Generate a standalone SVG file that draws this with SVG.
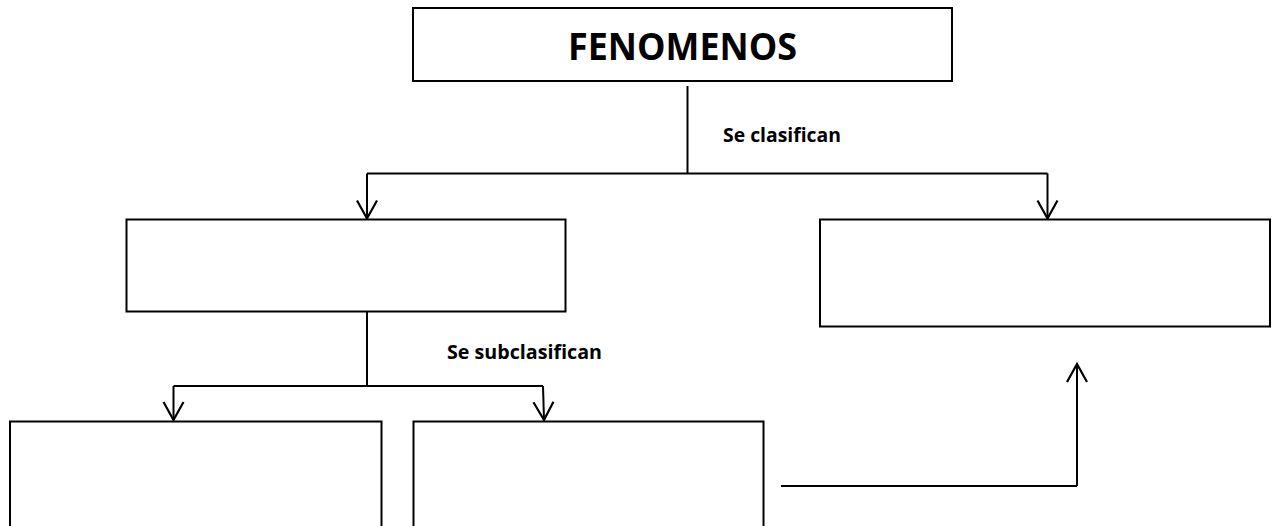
<svg xmlns="http://www.w3.org/2000/svg" width="1273" height="526" viewBox="0 0 1273 526">
  <style>
    .box { fill: #ffffff; stroke: #000000; stroke-width: 2; }
    .line { fill: none; stroke: #000000; stroke-width: 2; }
    .arrow { fill: none; stroke: #000000; stroke-width: 2; marker-end: url(#head); }
    .title { font-family: "Open Sans", "Liberation Sans", Arial, sans-serif; font-weight: bold; font-size: 37px; fill: #000000; }
    .label { font-family: "Open Sans", "Liberation Sans", Arial, sans-serif; font-weight: bold; font-size: 20px; fill: #000000; }
  </style>
  <defs>
    <marker id="head" markerUnits="userSpaceOnUse" viewBox="-1 -1 22 22" markerWidth="22" markerHeight="22" refX="18" refY="10" orient="auto" overflow="visible">
      <path d="M0,0 L18,10 L0,20" fill="none" stroke="#000000" stroke-width="2.2"/>
    </marker>
  </defs>
  <rect width="1273" height="526" fill="#ffffff"/>

  <g id="connectors">
    <polyline class="line" points="687.5,86 687.5,173.5"/>
    <polyline class="line" points="367,173.5 1047.5,173.5"/>
    <polyline class="arrow" points="367,173.5 367,218.5"/>
    <polyline class="arrow" points="1047.5,173.5 1047.5,218.5"/>
    <polyline class="line" points="367,312 367,386 173.5,386"/>
    <polyline class="line" points="367,386 543,386"/>
    <polyline class="arrow" points="173.5,386 173.5,420"/>
    <polyline class="arrow" points="543,386 544,420"/>
    <polyline class="line" points="781,486 1077,486"/>
    <polyline class="arrow" points="1077,486 1077,364"/>
    <text class="label" x="723" y="142" textLength="118" lengthAdjust="spacingAndGlyphs">Se clasifican</text>
    <text class="label" x="447" y="359" textLength="155" lengthAdjust="spacingAndGlyphs">Se subclasifican</text>
  </g>

  <g id="fenomenos">
    <rect class="box" x="413" y="8" width="539" height="73"/>
    <text class="title" x="568" y="60" textLength="229" lengthAdjust="spacingAndGlyphs">FENOMENOS</text>
  </g>
  <g id="clase1">
    <rect class="box" x="126.5" y="219.5" width="439" height="92"/>
  </g>
  <g id="clase2">
    <rect class="box" x="820" y="219.5" width="450" height="107"/>
  </g>
  <g id="subclase1">
    <rect class="box" x="10" y="421.5" width="371.5" height="120"/>
  </g>
  <g id="subclase2">
    <rect class="box" x="413.5" y="421.5" width="350" height="120"/>
  </g>
</svg>
